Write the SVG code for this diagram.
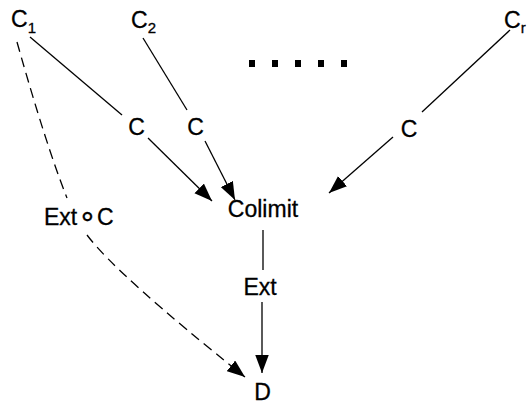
<svg xmlns="http://www.w3.org/2000/svg" width="528" height="404" viewBox="0 0 528 404">
<style>
text{font-family:"Liberation Sans",Arial,Helvetica,sans-serif;font-size:23px;fill:#000;stroke:#000;stroke-width:0.3}
.sub{font-size:15px}
.mid{text-anchor:middle}
.ln{stroke:#000;stroke-width:1.3;fill:none}
.dash{stroke-dasharray:10 6}
.dot{fill:#000}
</style>
<defs>
<marker id="ah" markerUnits="userSpaceOnUse" markerWidth="19" markerHeight="14" refX="18" refY="6.75" orient="auto">
<path d="M0,0 L18,6.75 L0,13.5 z" fill="#000"/>
</marker>
</defs>
<rect width="528" height="404" fill="#fff"/>
<g id="connectors">
<line class="ln" x1="30" y1="37" x2="122" y2="115"/>
<line class="ln" x1="143" y1="38" x2="187" y2="110"/>
<line class="ln" x1="510" y1="30" x2="422" y2="112"/>
<line class="ln" x1="148" y1="138" x2="212" y2="201" marker-end="url(#ah)"/>
<line class="ln" x1="205" y1="141" x2="235" y2="200" marker-end="url(#ah)"/>
<line class="ln" x1="393" y1="137" x2="329" y2="193" marker-end="url(#ah)"/>
<line class="ln" x1="263" y1="230" x2="263" y2="270"/>
<line class="ln" x1="262" y1="302" x2="262" y2="373" marker-end="url(#ah)"/>
<path class="ln dash" d="M17,42 Q46,145 67,198"/>
<path class="ln dash" d="M87,235 Q116,274 245,377" marker-end="url(#ah)"/>
</g>
<g id="C1"><text x="11" y="27">C<tspan class="sub" dy="6">1</tspan></text></g>
<g id="C2"><text x="131" y="28">C<tspan class="sub" dy="5">2</tspan></text></g>
<g id="Cr"><text x="504" y="28">C<tspan class="sub" dy="5">r</tspan></text></g>
<g id="ellipsis">
<rect class="dot" x="249" y="60" width="6" height="7"/>
<rect class="dot" x="272" y="60" width="6" height="7"/>
<rect class="dot" x="295" y="60" width="6" height="7"/>
<rect class="dot" x="318" y="60" width="6" height="7"/>
<rect class="dot" x="341" y="60" width="6" height="7"/>
</g>
<g id="label-c1"><text class="mid" x="136.5" y="135">C</text></g>
<g id="label-c2"><text class="mid" x="195.5" y="135">C</text></g>
<g id="label-cr"><text class="mid" x="409" y="137">C</text></g>
<g id="Colimit"><text class="mid" x="263" y="217">Colimit</text></g>
<g id="label-ext"><text class="mid" x="260" y="295">Ext</text></g>
<g id="label-extc"><text y="225"><tspan x="44">Ext</tspan><tspan x="78" y="226" style="font-family:'DejaVu Sans',sans-serif;font-size:30px">∘</tspan><tspan x="97" y="225">C</tspan></text></g>
<g id="D"><text class="mid" x="262.5" y="400">D</text></g>
</svg>
